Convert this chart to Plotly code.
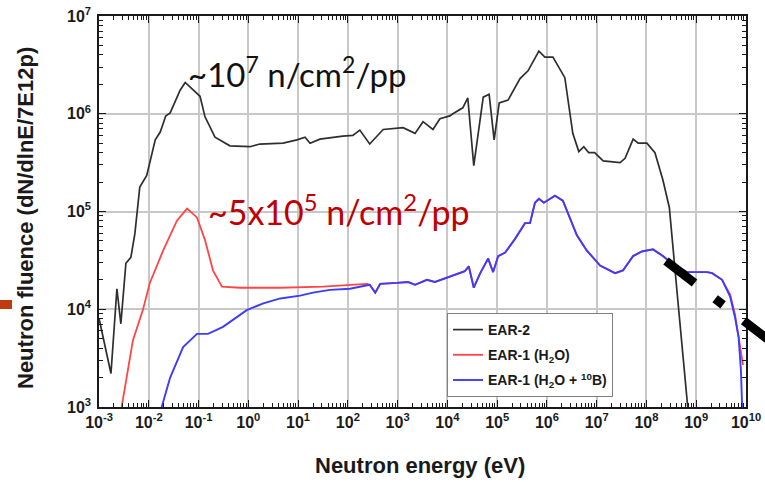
import plotly.graph_objects as go

# ---------------- data ----------------
ear2_E = [1.0e-3, 1.74e-3, 2.29e-3, 2.75e-3, 3.47e-3, 4.37e-3, 5.25e-3, 6.6e-3, 9.1e-3,
          1.35e-2, 1.70e-2, 2.19e-2, 2.69e-2, 4.27e-2, 5.4e-2, 1.07e-1, 1.35e-1, 2.14e-1,
          4.27e-1, 1.07, 1.70, 5.0, 9.5, 13.8, 17.4, 27.5, 79, 126, 174, 275, 513, 1290,
          2240, 3240, 5130, 7080, 1.12e4, 1.29e4, 2.04e4, 2.57e4, 3.39e4, 5.25e4, 6.9e4,
          8.7e4, 1.10e5, 1.66e5, 2.88e5, 4.17e5, 6.9e5, 9.1e5, 1.32e6, 2.29e6, 3.31e6,
          4.37e6, 5.5e6, 6.9e6, 9.1e6, 1.35e7, 2.95e7, 3.72e7, 5.4e7, 6.8e7, 1.02e8,
          1.48e8, 2.14e8, 2.88e8, 4.27e8, 6.8e8, 7.2e8]
ear2_F = [8.1e3, 2.2e3, 1.62e4, 7.1e3, 2.95e4, 3.4e4, 5.9e4, 1.78e5, 2.34e5,
          5.4e5, 6.5e5, 9.5e5, 1.02e6, 1.74e6, 2.09e6, 1.51e6, 9.3e5, 5.75e5,
          4.7e5, 4.6e5, 4.9e5, 5.0e5, 5.4e5, 5.75e5, 5.0e5, 5.5e5, 5.9e5, 6.0e5, 6.8e5,
          4.9e5, 6.9e5, 7.2e5, 6.3e5, 8.3e5, 6.9e5, 8.9e5, 9.5e5, 1.0e6, 1.15e6, 1.45e6,
          2.95e5, 1.48e6, 1.58e6, 5.4e5, 1.29e6, 1.38e6, 2.29e6, 2.75e6, 4.37e6, 3.8e6,
          3.8e6, 2.34e6, 6.3e5, 4.1e5, 4.6e5, 4.0e5, 4.0e5, 3.3e5, 3.16e5, 3.5e5, 5.5e5,
          5.0e5, 5.0e5, 4.0e5, 2.1e5, 1.1e5, 1.23e4, 1.0e3, 7.0e2]

# EAR-1 (H2O): low-energy part (moderated peak)
h2o_low_E = [2.75e-3, 4.8e-3, 7.6e-3, 1.05e-2, 1.95e-2, 3.7e-2, 5.9e-2, 9.3e-2, 1.35e-1,
             1.95e-1, 2.95e-1, 6.8e-1, 4.4, 31.6, 240]
h2o_low_F = [9.0e2, 4.8e3, 9.8e3, 1.86e4, 4.0e4, 8.1e4, 1.07e5, 8.7e4, 5.1e4,
             2.5e4, 1.7e4, 1.66e4, 1.66e4, 1.7e4, 1.82e4]

# EAR-1 (H2O + 10B): low-energy part
boron_low_E = [1.74e-2, 1.82e-2, 2.69e-2, 4.9e-2, 9.3e-2, 1.55e-1, 3.1e-1, 9.3e-1, 2.0,
               4.4, 11.0, 20, 43.6, 110, 174]
boron_low_F = [9.0e2, 1.0e3, 2.0e3, 4.1e3, 5.6e3, 5.6e3, 6.6e3, 9.8e3, 1.15e4,
               1.29e4, 1.38e4, 1.48e4, 1.58e4, 1.62e4, 1.7e4]

# EAR-1: common part of both moderators (epithermal to high energy)
ear1_common_E = [275, 355, 447, 977, 1620, 2240, 3890, 5620, 9770, 1.55e4, 2.24e4, 2.69e4,
                 3.39e4, 4.57e4, 6.6e4, 8.3e4, 1.05e5, 1.45e5, 2.29e5, 3.63e5, 4.57e5,
                 5.75e5, 6.9e5, 8.7e5, 1.45e6, 2.09e6, 2.88e6, 3.98e6, 6.3e6, 1.17e7,
                 2.34e7, 3.39e7, 5.4e7, 8.1e7, 1.35e8, 2.14e8, 3.24e8, 6.5e8, 1.66e9,
                 2.09e9, 3.31e9]
ear1_common_F = [1.78e4, 1.48e4, 1.82e4, 1.86e4, 1.9e4, 1.78e4, 2.0e4, 1.9e4, 2.1e4, 2.29e4,
                 2.45e4, 2.75e4, 1.66e4, 2.34e4, 3.3e4, 2.4e4, 3.5e4, 3.8e4, 5.25e4, 7.6e4,
                 7.6e4, 1.23e5, 1.35e5, 1.23e5, 1.45e5, 1.29e5, 8.7e4, 5.75e4, 4.0e4,
                 2.8e4, 2.34e4, 2.5e4, 3.5e4, 3.9e4, 4.1e4, 3.5e4, 2.95e4, 2.4e4, 2.4e4,
                 2.34e4, 2.0e4]

# high-energy tails
h2o_tail_E = [4.8e9, 6.0e9, 7.6e9, 8.7e9]
h2o_tail_F = [1.41e4, 8.9e3, 4.1e3, 2.7e3]
boron_tail_E = [4.8e9, 6.0e9, 7.1e9, 7.9e9, 8.3e9, 8.5e9]
boron_tail_F = [1.35e4, 8.3e3, 5.2e3, 2.4e3, 1.0e3, 8.0e2]

x_tick_exp = list(range(-3, 11))
y_tick_exp = list(range(3, 8))
series_names = ["EAR-2", "EAR-1 (H<sub>2</sub>O)", "EAR-1 (H<sub>2</sub>O + <sup>10</sup>B)"]
note_ear2 = "~10<sup>7</sup> n/cm<sup>2</sup>/pp"
note_ear1 = "~5x10<sup>5</sup> n/cm<sup>2</sup>/pp"
x_title = "Neutron energy (eV)"
y_title = "Neutron fluence (dN/dlnE/7E12p)"

# ---------------- figure ----------------
W, H = 765, 482
L, R, T, B = 99, 19, 16, 75
pw, ph = W - L - R, H - T - B


def px(x):
    return (x - L) / pw


def py(y):
    return (H - B - y) / ph


fig = go.Figure()
fig.add_trace(go.Scatter(x=ear2_E, y=ear2_F, mode="lines", name=series_names[0],
                         legendgroup="a", line=dict(color="#2e2e2e", width=1.7)))
fig.add_trace(go.Scatter(x=h2o_low_E + ear1_common_E + h2o_tail_E,
                         y=h2o_low_F + ear1_common_F + h2o_tail_F,
                         mode="lines", name=series_names[1], legendgroup="b",
                         line=dict(color="#ff4646", width=1.8)))
fig.add_trace(go.Scatter(x=boron_low_E + ear1_common_E + boron_tail_E,
                         y=boron_low_F + ear1_common_F + boron_tail_F,
                         mode="lines", name=series_names[2], legendgroup="c",
                         line=dict(color="#3c3cff", width=1.9)))

tickfont = dict(family="Liberation Sans, Arial", size=16, color="#1a1a1a", weight="bold")
axis_common = dict(type="log", showline=True, linecolor="#1a1a1a", linewidth=1.5,
                   mirror="allticks", ticks="inside", ticklen=7, tickwidth=1.2,
                   tickcolor="#1a1a1a", showgrid=True, gridcolor="#c8c8c8", gridwidth=1.5,
                   zeroline=False, tickfont=tickfont, automargin=False,
                   minor=dict(ticks="inside", ticklen=4, tickwidth=1, tickcolor="#1a1a1a",
                              showgrid=False, dtick="D1"))

fig.update_xaxes(range=[-3, 10], tickvals=[10 ** e for e in x_tick_exp],
                 ticktext=["10<sup>%d</sup>" % e for e in x_tick_exp], **axis_common)
fig.update_yaxes(range=[3, 7], tickvals=[10 ** e for e in y_tick_exp],
                 ticktext=["10<sup>%d</sup>" % e for e in y_tick_exp],
                 ticklabelstandoff=3, **axis_common)

titlefont = dict(family="Liberation Sans, Arial", size=22, color="#1a1a1a", weight="bold")
annotations = [
    dict(x=px(25), y=py(218), xref="paper", yref="paper", text=y_title, textangle=-90,
         showarrow=False, font=titlefont, xanchor="center", yanchor="middle"),
    dict(x=px(420), y=py(465), xref="paper", yref="paper", text=x_title,
         showarrow=False, font=titlefont, xanchor="center", yanchor="middle"),
    dict(x=px(186), y=py(72), xref="paper", yref="paper", text=note_ear2,
         showarrow=False, font=dict(family="Lato", size=33, color="#111111"),
         xanchor="left", yanchor="middle"),
    dict(x=px(206), y=py(210), xref="paper", yref="paper", text=note_ear1,
         showarrow=False, font=dict(family="Lato", size=34, color="#c00000"),
         xanchor="left", yanchor="middle"),
]

shapes = [
    # dash-dot decoration crossing the high-energy end
    dict(type="line", xref="paper", yref="paper", x0=px(666), y0=py(261),
         x1=px(770), y1=py(341), line=dict(color="black", width=9, dash="36px,26px,10px,26px"),
         layer="above"),
    # small slide marker on the left edge
    dict(type="rect", xref="paper", yref="paper", x0=px(0), x1=px(12), y0=py(309), y1=py(300),
         fillcolor="#c0390f", line=dict(width=0), layer="above"),
]

fig.update_layout(
    width=W, height=H, margin=dict(l=L, r=R, t=T, b=B, autoexpand=False),
    paper_bgcolor="white", plot_bgcolor="white",
    showlegend=True,
    legend=dict(x=px(447), y=py(313), xanchor="left", yanchor="top",
                bgcolor="white", bordercolor="#808080", borderwidth=1,
                font=dict(family="Liberation Sans, Arial", size=14, color="#1a1a1a", weight="bold"),
                traceorder="grouped", tracegroupgap=4),
    annotations=annotations, shapes=shapes,
)

fig.write_html("out.html", config={"displayModeBar": False},
               post_script="document.body.style.margin='0';document.body.style.padding='0';")
